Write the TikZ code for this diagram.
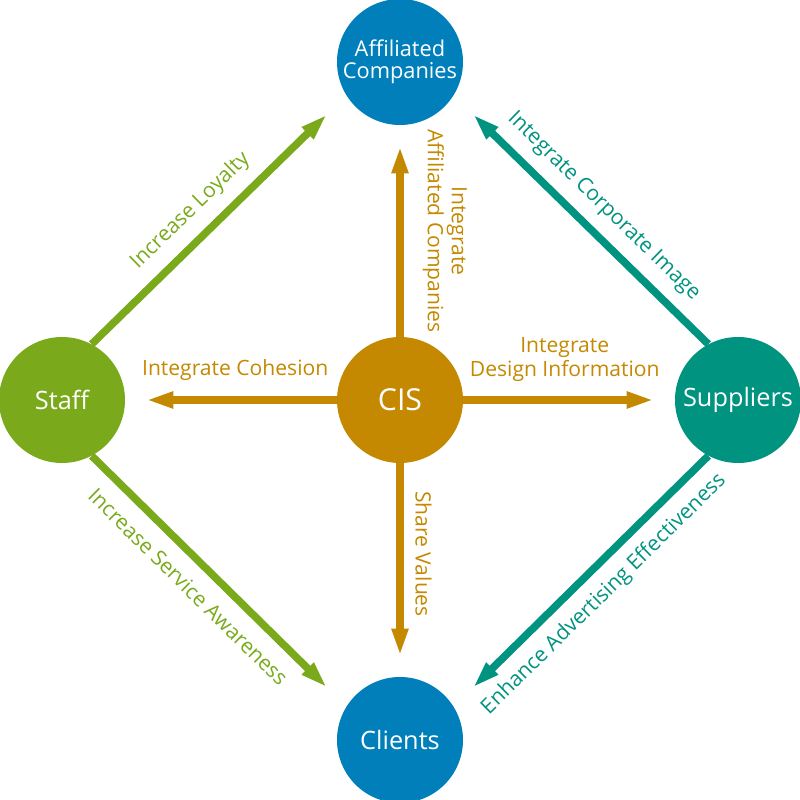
\documentclass[tikz,border=0pt]{standalone}
\usepackage{fontspec}
\setmainfont{Open Sans}
\usepackage{tikz}
\definecolor{cisgold}{RGB}{196,137,0}
\definecolor{cisblue}{RGB}{0,127,186}
\definecolor{cisgreen}{RGB}{122,170,28}
\definecolor{cisteal}{RGB}{0,147,128}
\usetikzlibrary{arrows.meta}

\begin{document}
\begin{tikzpicture}
    \tikzstyle{hub} = [circle, minimum size=3.15cm, inner sep=0pt, text=white,
                       align=center, font=\fontsize{18}{20}\selectfont]
    \tikzstyle{flow} = [line width=0.19cm, -{Triangle[length=0.68cm, width=0.38cm]},
                        shorten >=0.52cm]
    \tikzstyle{backflow} = [line width=0.19cm, {Triangle[length=0.68cm, width=0.38cm]}-,
                            shorten <=0.52cm]
    \tikzstyle{tag} = [font=\fontsize{15}{17}\selectfont, align=center, inner sep=0pt]

    \useasboundingbox (-10,-10) rectangle (10,10);

    % Hubs
    \node[hub, fill=cisgold, font=\fontsize{21.5}{24}\selectfont] (cis) at (0,0) {CIS};
    \node[hub, fill=cisblue, font=\fontsize{15.5}{15.8}\selectfont] (aff) at (0,8.45) {Affiliated\\Companies};
    \node[hub, fill=cisgreen] (staff) at (-8.45,0) {Staff};
    \node[hub, fill=cisteal] (supp) at (8.45,0) {Suppliers};
    \node[hub, fill=cisblue] (clients) at (0,-8.5) {Clients};

    % CIS outwards
    \draw[backflow, cisgold] (aff) -- (cis)
        node[tag, sloped, pos=0.5, yshift=1.12cm] {Integrate\\Affiliated Companies};
    \draw[flow, cisgold] (cis) -- (staff)
        node[tag, pos=0.48, yshift=0.76cm] {Integrate Cohesion};
    \draw[flow, cisgold] (cis) -- (supp)
        node[tag, pos=0.48, yshift=1.02cm] {Integrate\\Design Information};
    \draw[flow, cisgold] (cis) -- (clients)
        node[tag, sloped, pos=0.425, yshift=0.59cm] {Share Values};

    % Outer ring
    \draw[flow, cisgreen, shorten >=0.675cm] (staff.62) -- (aff.212)
        node[tag, sloped, pos=0.46, yshift=0.66cm] {Increase Loyalty};
    \draw[backflow, cisteal, shorten <=0.675cm] (aff.328) -- (supp.118)
        node[tag, sloped, pos=0.52, yshift=0.63cm] {Integrate Corporate Image};
    \draw[flow, cisgreen, shorten >=0.675cm] (staff.298) -- (clients.148)
        node[tag, sloped, pos=0.45, yshift=-0.64cm] {Increase Service Awareness};
    \draw[backflow, cisteal, shorten <=0.675cm] (clients.32) -- (supp.242)
        node[tag, sloped, pos=0.52, yshift=-0.64cm] {Enhance Advertising Effectiveness};
\end{tikzpicture}
\end{document}
